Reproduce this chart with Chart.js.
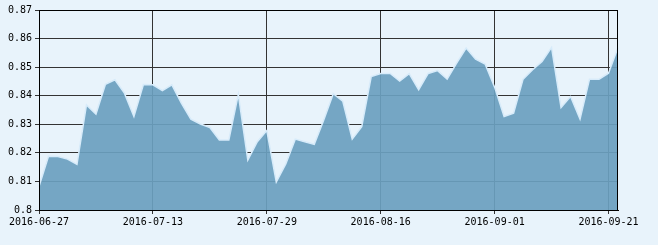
<!DOCTYPE html>
<html>
<head>
<meta charset="utf-8">
<script src="https://cdn.jsdelivr.net/npm/chart.js@4/dist/chart.umd.min.js"></script>
<style>
html,body{margin:0;padding:0;background:#E8F3FB;}
#wrap{width:658px;height:245px;position:relative;}
</style>
</head>
<body>
<div id="wrap"><canvas id="c" width="658" height="245"></canvas></div>
<script>
const dates = [
"2016-06-27","2016-06-28","2016-06-29","2016-06-30","2016-07-01",
"2016-07-04","2016-07-05","2016-07-06","2016-07-07","2016-07-08",
"2016-07-11","2016-07-12","2016-07-13","2016-07-14","2016-07-15",
"2016-07-18","2016-07-19","2016-07-20","2016-07-21","2016-07-22",
"2016-07-25","2016-07-26","2016-07-27","2016-07-28","2016-07-29",
"2016-08-01","2016-08-02","2016-08-03","2016-08-04","2016-08-05",
"2016-08-08","2016-08-09","2016-08-10","2016-08-11","2016-08-12",
"2016-08-15","2016-08-16","2016-08-17","2016-08-18","2016-08-19",
"2016-08-22","2016-08-23","2016-08-24","2016-08-25","2016-08-26",
"2016-08-29","2016-08-30","2016-08-31","2016-09-01","2016-09-02",
"2016-09-05","2016-09-06","2016-09-07","2016-09-08","2016-09-09",
"2016-09-12","2016-09-13","2016-09-14","2016-09-19","2016-09-20",
"2016-09-21","2016-09-22"
];
const values = [
0.8082,0.8188,0.8187,0.8178,0.8160,
0.8368,0.8336,0.8440,0.8456,0.8409,
0.8327,0.8439,0.8438,0.8418,0.8438,
0.8374,0.8318,0.8301,0.8289,0.8245,
0.8245,0.8405,0.8175,0.8239,0.8278,
0.8098,0.8161,0.8248,0.8239,0.8230,
0.8315,0.8407,0.8381,0.8248,0.8292,
0.8467,0.8478,0.8478,0.8451,0.8477,
0.8421,0.8478,0.8488,0.8458,0.8514,
0.8567,0.8528,0.8511,0.8430,0.8327,
0.8339,0.8458,0.8491,0.8520,0.8569,
0.8359,0.8397,0.8318,0.8458,0.8458,
0.8479,0.8569
];
const yMin = 0.80, yMax = 0.87, yStep = 0.01;
const labelEvery = 12;

const frame = {
  id:'frame',
  afterDraw(chart){
    const a = chart.chartArea, ctx = chart.ctx;
    ctx.save();
    ctx.strokeStyle = '#000';
    ctx.lineWidth = 1;
    ctx.strokeRect(Math.round(a.left)+0.5, Math.round(a.top)+0.5, Math.round(a.right-a.left)-1, Math.round(a.bottom-a.top));
    ctx.restore();
  }
};

const font = {family:'"DejaVu Sans Mono", monospace', size:10};

new Chart(document.getElementById('c'), {
  type:'line',
  data:{
    labels: dates,
    datasets:[{
      data: values,
      fill: 'origin',
      backgroundColor: 'rgba(106,160,191,0.92)',
      borderColor: 'rgba(215,235,250,1)',
      borderWidth: 1.5,
      pointRadius: 0,
      tension: 0
    }]
  },
  options:{
    responsive:false,
    animation:false,
    events:[],
    layout:{padding:{top:10,right:40,left:0,bottom:0}},
    plugins:{legend:{display:false},tooltip:{enabled:false}},
    scales:{
      x:{
        type:'category',
        offset:false,
        afterBuildTicks(scale){ scale.ticks = scale.ticks.filter(t => t.value % labelEvery === 0); },
        afterFit(scale){ scale.height = 35; },
        grid:{color:'#333', lineWidth:1, tickLength:4, drawOnChartArea:true},
        border:{color:'#000', width:1},
        ticks:{autoSkip:false, maxRotation:0, minRotation:0, padding:2, color:'#000', font},
      },
      y:{
        min:yMin, max:yMax,
        afterFit(scale){ scale.width = 39; },
        grid:{color:'#333', lineWidth:1, tickLength:4},
        border:{color:'#000', width:1},
        ticks:{stepSize:yStep, padding:3, color:'#000', font,
          callback:(v)=>String(parseFloat(v.toFixed(2)))}
      }
    }
  },
  plugins:[frame]
});
</script>
</body>
</html>
